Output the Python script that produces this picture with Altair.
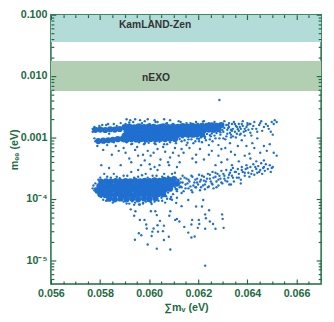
import altair as alt
import pandas as pd

# ---------------- data ----------------
# sum of neutrino masses (eV), effective Majorana mass m_ee (eV)
# dense core of the upper (m_ee ~ 1e-3 eV) branch
upper_core = [
    (0.05781, 1.33e-3), (0.05801, 1.34e-3), (0.05821, 1.32e-3), (0.05841, 1.36e-3), (0.05860, 1.34e-3), (0.05880, 1.37e-3),
    (0.05793, 8.70e-4), (0.05813, 8.85e-4), (0.05833, 9.00e-4), (0.05852, 9.15e-4), (0.05872, 9.35e-4), (0.05892, 9.50e-4),
    (0.05900, 1.47e-3), (0.05919, 1.50e-3), (0.05939, 1.46e-3), (0.05959, 1.51e-3), (0.05979, 1.47e-3), (0.05998, 1.50e-3),
    (0.06018, 1.49e-3), (0.06038, 1.46e-3), (0.06057, 1.51e-3), (0.06077, 1.48e-3), (0.06097, 1.52e-3), (0.06117, 1.49e-3),
    (0.06136, 1.53e-3), (0.06156, 1.50e-3), (0.06176, 1.54e-3), (0.06195, 1.51e-3), (0.06215, 1.55e-3), (0.06235, 1.54e-3),
    (0.06255, 1.57e-3), (0.06274, 1.55e-3), (0.06294, 1.59e-3),
    (0.05908, 1.25e-3), (0.05927, 1.27e-3), (0.05947, 1.24e-3), (0.05967, 1.28e-3), (0.05986, 1.25e-3), (0.06006, 1.28e-3),
    (0.06026, 1.26e-3), (0.06046, 1.29e-3), (0.06065, 1.26e-3), (0.06085, 1.29e-3), (0.06105, 1.27e-3), (0.06124, 1.30e-3),
    (0.06144, 1.28e-3), (0.06164, 1.31e-3), (0.06184, 1.29e-3), (0.06203, 1.32e-3), (0.06223, 1.31e-3), (0.06243, 1.34e-3),
    (0.06262, 1.33e-3), (0.06282, 1.36e-3),
    (0.05900, 1.06e-3), (0.05919, 1.08e-3), (0.05939, 1.06e-3), (0.05959, 1.09e-3), (0.05979, 1.06e-3), (0.05998, 1.09e-3),
    (0.06018, 1.07e-3), (0.06038, 1.10e-3), (0.06057, 1.07e-3), (0.06077, 1.10e-3), (0.06097, 1.09e-3), (0.06117, 1.11e-3),
    (0.06136, 1.10e-3), (0.06156, 1.12e-3), (0.06176, 1.11e-3), (0.06195, 1.13e-3), (0.06215, 1.12e-3),
    (0.05908, 9.20e-4), (0.05927, 9.40e-4), (0.05947, 9.25e-4), (0.05967, 9.45e-4), (0.05986, 9.25e-4), (0.06006, 9.45e-4),
    (0.06026, 9.30e-4), (0.06046, 9.50e-4), (0.06065, 9.40e-4), (0.06085, 9.60e-4), (0.06105, 9.45e-4),
]

# dense core of the lower (m_ee ~ 1.5e-4 eV) branch
lower_core = [
    (0.05805, 1.89e-4), (0.05825, 1.93e-4), (0.05844, 1.90e-4), (0.05864, 1.94e-4), (0.05884, 1.91e-4), (0.05904, 1.95e-4),
    (0.05923, 1.92e-4), (0.05943, 1.96e-4), (0.05963, 1.93e-4), (0.05982, 1.97e-4), (0.06002, 1.94e-4), (0.06022, 1.99e-4),
    (0.06042, 1.96e-4), (0.06061, 2.03e-4), (0.06081, 2.04e-4), (0.06101, 2.10e-4),
    (0.05797, 1.61e-4), (0.05817, 1.59e-4), (0.05837, 1.63e-4), (0.05856, 1.60e-4), (0.05876, 1.64e-4), (0.05896, 1.61e-4),
    (0.05915, 1.65e-4), (0.05935, 1.61e-4), (0.05955, 1.65e-4), (0.05975, 1.62e-4), (0.05994, 1.66e-4), (0.06014, 1.63e-4),
    (0.06034, 1.68e-4), (0.06053, 1.66e-4), (0.06073, 1.71e-4), (0.06093, 1.72e-4), (0.06113, 1.77e-4),
    (0.05789, 1.37e-4), (0.05809, 1.39e-4), (0.05829, 1.36e-4), (0.05848, 1.40e-4), (0.05868, 1.36e-4), (0.05888, 1.39e-4),
    (0.05908, 1.36e-4), (0.05927, 1.40e-4), (0.05947, 1.37e-4), (0.05967, 1.40e-4), (0.05986, 1.38e-4), (0.06006, 1.41e-4),
    (0.06026, 1.39e-4), (0.06046, 1.42e-4), (0.06065, 1.42e-4), (0.06085, 1.46e-4),
    (0.05801, 1.18e-4), (0.05821, 1.15e-4), (0.05841, 1.18e-4), (0.05860, 1.15e-4), (0.05880, 1.18e-4), (0.05900, 1.15e-4),
    (0.05919, 1.18e-4), (0.05939, 1.15e-4), (0.05959, 1.18e-4), (0.05979, 1.16e-4), (0.05998, 1.19e-4), (0.06018, 1.17e-4),
    (0.06038, 1.20e-4), (0.06057, 1.19e-4),
    (0.05837, 1.00e-4), (0.05860, 9.8e-5), (0.05884, 1.01e-4), (0.05908, 9.8e-5), (0.05931, 1.01e-4), (0.05955, 9.8e-5),
    (0.05979, 1.01e-4), (0.06002, 9.9e-5), (0.06026, 1.02e-4),
]

# individual points around the upper branch
upper_scatter = [
    (0.05908, 1.98e-3), (0.05923, 1.91e-3), (0.05943, 1.98e-3), (0.05963, 1.91e-3), (0.05994, 1.98e-3), (0.06022, 1.91e-3),
    (0.06061, 1.98e-3), (0.06085, 1.91e-3), (0.05935, 1.78e-3), (0.05982, 1.84e-3), (0.06034, 1.78e-3), (0.06073, 1.71e-3),
    (0.06120, 1.84e-3), (0.06152, 1.71e-3), (0.06191, 1.78e-3), (0.06223, 1.84e-3), (0.05884, 1.71e-3), (0.05856, 1.65e-3),
    (0.05825, 1.59e-3), (0.05797, 1.54e-3), (0.05770, 1.38e-3), (0.05770, 1.24e-3), (0.05777, 1.48e-3), (0.05777, 9.65e-4),
    (0.05781, 8.66e-4), (0.05817, 8.35e-4), (0.05856, 8.35e-4), (0.05896, 8.66e-4), (0.05837, 1.15e-3),
    (0.05789, 7.23e-4), (0.05829, 7.50e-4), (0.05864, 7.23e-4), (0.05896, 6.73e-4), (0.05876, 6.04e-4), (0.05943, 6.26e-4),
    (0.05955, 5.04e-4), (0.05975, 5.23e-4), (0.05994, 6.04e-4), (0.06006, 5.04e-4), (0.06034, 6.49e-4), (0.06046, 4.37e-4),
    (0.06065, 5.83e-4), (0.06085, 4.70e-4), (0.06105, 6.73e-4), (0.06120, 5.04e-4), (0.05927, 7.77e-4), (0.05982, 8.06e-4),
    (0.06026, 7.77e-4), (0.06073, 7.77e-4), (0.05805, 3.53e-4), (0.05837, 3.17e-4), (0.05884, 3.53e-4), (0.05927, 3.93e-4),
    (0.05967, 3.53e-4), (0.06002, 3.66e-4), (0.06022, 3.29e-4), (0.06081, 3.53e-4), (0.06113, 3.29e-4), (0.05955, 2.95e-4),
    (0.06006, 3.06e-4), (0.06042, 3.53e-4),
    (0.06381, 1.84e-3), (0.06408, 1.65e-3), (0.06428, 1.78e-3), (0.06456, 1.84e-3), (0.06475, 1.65e-3), (0.06499, 1.78e-3),
    (0.06507, 1.65e-3), (0.06519, 1.78e-3), (0.06389, 1.38e-3), (0.06420, 1.38e-3), (0.06440, 1.24e-3), (0.06467, 1.48e-3),
    (0.06416, 1.07e-3), (0.06440, 9.65e-4), (0.06377, 8.98e-4), (0.06361, 7.23e-4), (0.06396, 7.23e-4), (0.06428, 6.73e-4),
    (0.06467, 7.23e-4), (0.06507, 5.62e-4), (0.06479, 6.04e-4), (0.06519, 5.04e-4), (0.06329, 8.06e-4), (0.06310, 6.73e-4),
    (0.06282, 7.50e-4), (0.06258, 8.66e-4), (0.06231, 8.98e-4), (0.06243, 7.50e-4), (0.06203, 8.66e-4), (0.06180, 8.06e-4),
    (0.06152, 7.50e-4), (0.06164, 6.73e-4), (0.06140, 5.62e-4), (0.06191, 5.23e-4), (0.06243, 5.23e-4), (0.06282, 5.04e-4),
    (0.06349, 5.23e-4), (0.06389, 5.04e-4), (0.06124, 3.93e-4), (0.06191, 3.93e-4), (0.06270, 3.53e-4), (0.06337, 3.53e-4),
    (0.06322, 1.59e-3), (0.06333, 1.33e-3), (0.06349, 1.65e-3), (0.06357, 1.15e-3), (0.06341, 1.04e-3), (0.06369, 1.48e-3),
    (0.06302, 9.65e-4), (0.06318, 1.15e-3), (0.06365, 1.28e-3), (0.06270, 9.65e-4), (0.06251, 1.04e-3), (0.06290, 1.11e-3),
    (0.06211, 1.00e-3), (0.06172, 9.30e-4), (0.06144, 8.98e-4), (0.06400, 1.59e-3), (0.06448, 1.59e-3), (0.06487, 1.38e-3),
    (0.06412, 1.19e-3),
    # fuzzy upper edge
    (0.05809, 1.59e-3), (0.05833, 1.65e-3), (0.05868, 1.54e-3), (0.05904, 1.65e-3), (0.05919, 1.75e-3), (0.05951, 1.59e-3),
    (0.05971, 1.71e-3), (0.06002, 1.65e-3), (0.06026, 1.78e-3), (0.06046, 1.59e-3), (0.06069, 1.68e-3), (0.06097, 1.65e-3),
    (0.06128, 1.78e-3), (0.06144, 1.59e-3), (0.06168, 1.71e-3), (0.06199, 1.65e-3), (0.06219, 1.81e-3), (0.06243, 1.71e-3),
    (0.06266, 1.78e-3), (0.06286, 1.65e-3), (0.06306, 1.84e-3), (0.06325, 1.71e-3), (0.06345, 1.78e-3),
    # fuzzy lower edge
    (0.05908, 8.35e-4), (0.05931, 7.90e-4), (0.05959, 8.35e-4), (0.05979, 7.77e-4), (0.05998, 8.20e-4), (0.06022, 8.06e-4),
    (0.06042, 8.50e-4), (0.06061, 7.77e-4), (0.06085, 8.35e-4), (0.06109, 8.06e-4), (0.06132, 8.66e-4), (0.06156, 8.20e-4),
    (0.06188, 8.66e-4), (0.06215, 8.35e-4), (0.06124, 9.40e-4), (0.06117, 1.02e-3),
    # thinning right part of the branch
    (0.06136, 1.00e-3), (0.06160, 9.30e-4), (0.06184, 1.04e-3), (0.06203, 9.50e-4), (0.06227, 1.04e-3), (0.06247, 9.30e-4),
    (0.06266, 1.07e-3), (0.06286, 9.65e-4), (0.06314, 1.04e-3), (0.06333, 1.11e-3), (0.06353, 1.00e-3), (0.06373, 1.15e-3),
    (0.06389, 1.07e-3), (0.06404, 1.33e-3), (0.06424, 1.54e-3), (0.06436, 1.38e-3), (0.06452, 1.71e-3), (0.06460, 1.28e-3),
    (0.06483, 1.54e-3), (0.06495, 1.24e-3), (0.06511, 1.91e-3), (0.06322, 1.43e-3), (0.06337, 1.28e-3), (0.06353, 1.54e-3),
    (0.06361, 1.36e-3), (0.06377, 1.65e-3), (0.06385, 1.24e-3), (0.06396, 1.48e-3), (0.06412, 1.65e-3),
    (0.06314, 1.59e-3), (0.06318, 1.33e-3), (0.06325, 1.48e-3), (0.06329, 1.19e-3), (0.06337, 1.65e-3), (0.06341, 1.38e-3),
    (0.06349, 1.24e-3), (0.06357, 1.48e-3), (0.06365, 1.65e-3), (0.06373, 1.38e-3), (0.06381, 1.54e-3), (0.06393, 1.28e-3),
    (0.06400, 1.71e-3), (0.06369, 1.11e-3), (0.06333, 1.00e-3), (0.06310, 9.30e-4), (0.06302, 1.24e-3), (0.06306, 1.43e-3),
    (0.06235, 1.14e-3), (0.06255, 1.16e-3), (0.06247, 1.09e-3), (0.06274, 1.18e-3), (0.06290, 1.21e-3), (0.06298, 1.32e-3),
    (0.06227, 9.80e-4), (0.06195, 9.60e-4), (0.06160, 1.02e-3),
    # between the two branches
    (0.05813, 6.26e-4), (0.05848, 5.23e-4), (0.05904, 5.62e-4), (0.05919, 4.53e-4), (0.05951, 6.98e-4), (0.05982, 4.22e-4),
    (0.06018, 5.62e-4), (0.06057, 6.98e-4), (0.06077, 3.93e-4), (0.06097, 5.62e-4), (0.06132, 6.49e-4), (0.06176, 4.53e-4),
    (0.06207, 6.49e-4), (0.06223, 4.37e-4), (0.06255, 6.04e-4), (0.06294, 6.49e-4), (0.06318, 4.37e-4), (0.06333, 5.83e-4),
    (0.06365, 4.07e-4), (0.06408, 5.42e-4), (0.06420, 8.06e-4), (0.06452, 5.62e-4), (0.06491, 7.77e-4), (0.06503, 1.11e-3),
    (0.06412, 4.53e-4), (0.06294, 3.93e-4),
]

# individual points around the lower branch
lower_scatter = [
    (0.05781, 1.78e-4), (0.05781, 1.48e-4), (0.05785, 1.28e-4), (0.05793, 2.05e-4), (0.05805, 1.07e-4), (0.05813, 9.65e-5),
    (0.05844, 2.21e-4), (0.05868, 2.29e-4), (0.05896, 8.98e-5), (0.05919, 8.35e-5), (0.05943, 8.66e-5), (0.05975, 8.35e-5),
    (0.05994, 9.30e-5), (0.06022, 8.98e-5), (0.06053, 9.30e-5), (0.06073, 1.00e-4), (0.05896, 2.37e-4), (0.05955, 2.29e-4),
    (0.06014, 2.37e-4), (0.06053, 2.29e-4), (0.05986, 2.55e-4), (0.05927, 2.74e-4), (0.06034, 2.95e-4), (0.05856, 2.55e-4),
    (0.05817, 2.55e-4), (0.06093, 2.55e-4),
    (0.05801, 2.21e-4), (0.05829, 2.29e-4), (0.05880, 2.17e-4), (0.05911, 2.37e-4), (0.05939, 2.21e-4), (0.05971, 2.42e-4),
    (0.05994, 2.21e-4), (0.06030, 2.37e-4), (0.06061, 2.55e-4), (0.06077, 2.29e-4), (0.06105, 2.65e-4),
    (0.05825, 9.30e-5), (0.05852, 8.66e-5), (0.05876, 9.50e-5), (0.05908, 8.35e-5), (0.05931, 9.10e-5), (0.05959, 8.06e-5),
    (0.05986, 8.98e-5), (0.06010, 8.20e-5), (0.06038, 9.30e-5), (0.06065, 8.66e-5), (0.06093, 9.65e-5), (0.06113, 1.04e-4),
    (0.05773, 1.65e-4), (0.05777, 1.38e-4), (0.05770, 1.48e-4),
    (0.06097, 1.84e-4), (0.06105, 1.54e-4), (0.06113, 1.33e-4), (0.06097, 1.19e-4), (0.06089, 1.07e-4), (0.06120, 1.71e-4),
    (0.06128, 2.13e-4), (0.06132, 1.54e-4), (0.06077, 1.26e-4), (0.06050, 1.04e-4), (0.06069, 1.10e-4), (0.06109, 1.43e-4),
    # rising right part of the branch
    (0.06117, 2.05e-4), (0.06124, 1.54e-4), (0.06128, 1.84e-4), (0.06136, 2.37e-4), (0.06140, 1.33e-4), (0.06148, 1.71e-4),
    (0.06152, 2.13e-4), (0.06160, 1.48e-4), (0.06164, 1.91e-4), (0.06172, 2.37e-4), (0.06176, 1.28e-4), (0.06180, 1.65e-4),
    (0.06188, 2.05e-4), (0.06191, 1.54e-4), (0.06195, 1.84e-4), (0.06203, 2.46e-4), (0.06207, 1.38e-4), (0.06211, 2.05e-4),
    (0.06219, 1.65e-4), (0.06223, 2.29e-4), (0.06227, 1.43e-4), (0.06231, 1.91e-4), (0.06239, 2.55e-4), (0.06243, 1.59e-4),
    (0.06247, 2.13e-4), (0.06255, 1.78e-4), (0.06258, 2.74e-4), (0.06262, 1.48e-4), (0.06270, 2.29e-4), (0.06274, 1.91e-4),
    (0.06278, 2.55e-4), (0.06282, 1.65e-4), (0.06290, 2.13e-4), (0.06294, 2.85e-4), (0.06298, 1.78e-4), (0.06306, 2.37e-4),
    (0.06310, 1.98e-4), (0.06314, 2.95e-4), (0.06322, 2.21e-4), (0.06326, 1.71e-4), (0.06329, 2.65e-4), (0.06337, 2.37e-4),
    (0.06341, 3.17e-4), (0.06345, 1.91e-4), (0.06349, 2.74e-4), (0.06357, 2.21e-4), (0.06361, 3.06e-4), (0.06365, 2.55e-4),
    (0.06373, 2.05e-4), (0.06377, 3.29e-4), (0.06381, 2.74e-4), (0.06389, 2.37e-4), (0.06393, 3.06e-4), (0.06396, 3.53e-4),
    (0.06404, 2.65e-4), (0.06408, 2.29e-4), (0.06412, 3.29e-4), (0.06420, 2.85e-4), (0.06424, 3.66e-4), (0.06428, 2.46e-4),
    (0.06436, 3.06e-4), (0.06440, 2.65e-4), (0.06444, 3.41e-4), (0.06452, 2.95e-4), (0.06456, 3.79e-4), (0.06460, 2.55e-4),
    (0.06467, 3.29e-4), (0.06471, 2.85e-4), (0.06475, 3.66e-4), (0.06483, 3.06e-4), (0.06491, 3.53e-4), (0.06495, 2.74e-4),
    (0.06503, 3.29e-4), (0.06499, 3.17e-4), (0.06436, 4.07e-4), (0.06467, 4.22e-4), (0.06333, 1.71e-4), (0.06373, 1.78e-4),
    (0.06109, 1.71e-4), (0.06113, 1.43e-4), (0.06120, 1.98e-4), (0.06128, 1.59e-4), (0.06132, 1.24e-4), (0.06136, 1.84e-4),
    (0.06144, 2.21e-4), (0.06148, 1.48e-4), (0.06156, 1.78e-4), (0.06160, 2.05e-4), (0.06168, 1.59e-4), (0.06172, 1.38e-4),
    (0.06176, 2.29e-4), (0.06184, 1.84e-4), (0.06188, 1.54e-4), (0.06195, 2.13e-4), (0.06199, 1.71e-4), (0.06207, 1.91e-4),
    (0.06211, 1.54e-4), (0.06215, 2.37e-4), (0.06223, 1.98e-4), (0.06227, 1.71e-4), (0.06235, 2.13e-4), (0.06239, 1.54e-4),
    (0.06247, 2.46e-4), (0.06251, 1.91e-4), (0.06258, 1.71e-4), (0.06262, 2.21e-4), (0.06270, 2.65e-4), (0.06274, 1.54e-4),
    (0.06282, 2.05e-4), (0.06286, 2.37e-4), (0.06294, 1.84e-4), (0.06302, 2.55e-4), (0.06306, 2.13e-4), (0.06318, 1.91e-4),
    (0.06325, 2.46e-4), (0.06333, 2.95e-4), (0.06341, 2.21e-4), (0.06353, 2.74e-4), (0.06365, 2.21e-4), (0.06377, 2.95e-4),
    (0.06389, 2.65e-4), (0.06400, 3.17e-4), (0.06416, 2.55e-4), (0.06432, 3.29e-4), (0.06448, 2.74e-4), (0.06464, 3.17e-4),
]

# sparse points below the lower branch, plus two isolated points
sparse_points = [
    (0.05925, 6.73e-5), (0.05939, 5.28e-5), (0.05944, 6.26e-5), (0.05962, 4.53e-5), (0.05981, 4.53e-5), (0.05988, 3.80e-5),
    (0.05990, 3.28e-5), (0.05958, 2.74e-5), (0.05968, 2.55e-5), (0.05942, 2.15e-5), (0.05994, 1.80e-5), (0.06007, 6.26e-5),
    (0.06025, 6.26e-5), (0.06031, 5.42e-5), (0.06044, 4.37e-5), (0.06034, 3.71e-5), (0.06018, 3.28e-5), (0.06013, 2.91e-5),
    (0.06010, 2.48e-5), (0.06036, 2.91e-5), (0.06056, 2.97e-5), (0.06060, 3.65e-5), (0.06080, 2.40e-5), (0.06060, 2.13e-5),
    (0.06031, 1.54e-5), (0.06086, 1.49e-5), (0.06086, 6.26e-5), (0.06082, 5.28e-5), (0.06106, 4.53e-5), (0.06113, 4.70e-5),
    (0.06123, 4.26e-5), (0.06143, 3.48e-5), (0.06159, 2.81e-5), (0.06175, 4.53e-5), (0.06172, 3.80e-5), (0.06185, 2.43e-5),
    (0.06172, 2.34e-5), (0.06202, 4.53e-5), (0.06204, 3.89e-5), (0.06198, 3.36e-5), (0.06228, 5.56e-5), (0.06231, 4.82e-5),
    (0.06228, 3.25e-5), (0.06244, 6.50e-5), (0.06247, 4.26e-5), (0.06260, 3.89e-5), (0.06270, 3.25e-5), (0.06297, 5.56e-5),
    (0.06299, 4.70e-5), (0.06303, 3.36e-5), (0.06191, 7.50e-5), (0.06215, 7.50e-5), (0.06132, 7.58e-5), (0.06159, 9.55e-5),
    (0.06220, 9.55e-5), (0.06086, 9.90e-5), (0.06110, 8.57e-5), (0.06007, 8.75e-5), (0.05975, 8.57e-5), (0.05962, 8.06e-5),
    (0.05939, 7.98e-5), (0.06228, 8.14e-6), (0.06286, 4.07e-3),
]

# experimental sensitivity bands
band_names = ["KamLAND-Zen", "nEXO"]
band_low = [0.036, 0.0057]
band_high = [0.1, 0.0176]
band_x_from = [0.056, 0.056]
band_x_to = [0.067, 0.067]
label_x = [0.06024, 0.06028]
label_y = [0.0673, 0.0093]

# axes
x_domain = [0.056, 0.067]
y_domain = [4.1e-6, 0.1]
x_major = [0.056, 0.058, 0.060, 0.062, 0.064, 0.066]
x_minor = [0.0565, 0.057, 0.0575, 0.0585, 0.059, 0.0595, 0.0605, 0.061, 0.0615,
           0.0625, 0.063, 0.0635, 0.0645, 0.065, 0.0655, 0.0665]
y_major = [1e-5, 1e-4, 1e-3, 1e-2, 1e-1]
y_minor = [m * 10.0 ** e for e in range(-6, -1) for m in range(2, 10) if 4.1e-6 < m * 10.0 ** e < 0.1]
y_labels_expr = ("datum.value >= 0.0009 ? format(datum.value, '.3f') : "
                 "(datum.value >= 0.00009 ? '10\u207b\u2074' : '10\u207b\u2075')")

# ---------------- styling ----------------
GREEN = "#1d6b3f"
BLUE = "#1f6fd0"
FONT = "Liberation Sans"


def frame(pairs):
    return pd.DataFrame(pairs, columns=["sum_mnu", "mee"])


bands_df = pd.DataFrame({"name": band_names, "lo": band_low, "hi": band_high,
                         "x0": band_x_from, "x1": band_x_to, "lx": label_x, "ly": label_y})

xscale = alt.Scale(domain=x_domain, nice=False, zero=False)
yscale = alt.Scale(type="log", domain=y_domain, nice=False)


def make_axis(orient, values, size, labels=False, title=None, fmt=None, expr=None,
              label_pad=4, title_pad=3):
    kw = dict(orient=orient, values=values, tickSize=size, offset=-size, domain=False,
              grid=False, labels=labels, ticks=True, tickColor=GREEN, tickWidth=1.2, zindex=1)
    if labels:
        kw.update(labelColor=GREEN, labelFont=FONT, labelFontSize=11, labelFontWeight="bold",
                  labelPadding=label_pad, labelFlush=False, labelOverlap=False)
    if fmt:
        kw["format"] = fmt
    if expr:
        kw["labelExpr"] = expr
    if title:
        kw.update(title=title, titleColor=GREEN, titleFont=FONT, titleFontSize=11,
                  titleFontWeight="bold", titlePadding=title_pad)
    else:
        kw["title"] = None
    return alt.Axis(**kw)


bands = alt.Chart(bands_df).mark_rect().encode(
    x=alt.X("x0:Q", scale=xscale, axis=None),
    x2="x1:Q",
    y=alt.Y("lo:Q", scale=yscale, axis=None),
    y2="hi:Q",
    color=alt.Color("name:N", scale=alt.Scale(domain=band_names, range=["#b3dcd9", "#b2cfb4"]), legend=None),
)

band_text = alt.Chart(bands_df).mark_text(font=FONT, fontSize=10.5, fontWeight="bold", color="#333333").encode(
    x=alt.X("lx:Q", scale=xscale, axis=None),
    y=alt.Y("ly:Q", scale=yscale, axis=None),
    text="name:N",
)

fringe = alt.Chart(frame(upper_scatter + lower_scatter)).mark_circle(size=6, color=BLUE, opacity=1).encode(
    x=alt.X("sum_mnu:Q", scale=xscale,
            axis=make_axis("bottom", x_major, 5, labels=True, title="\u2211m\u1d65 (eV)", fmt=".3f", label_pad=4, title_pad=3)),
    y=alt.Y("mee:Q", scale=yscale,
            axis=make_axis("left", y_major, 5, labels=True, title="m\u2091\u2091 (eV)", expr=y_labels_expr, label_pad=4, title_pad=1)),
)

core = alt.Chart(frame(upper_core + lower_core)).mark_circle(size=40, color=BLUE, opacity=1).encode(
    x=alt.X("sum_mnu:Q", scale=xscale, axis=make_axis("bottom", x_minor, 3)),
    y=alt.Y("mee:Q", scale=yscale, axis=make_axis("left", y_minor, 3)),
)

sparse = alt.Chart(frame(sparse_points)).mark_circle(size=6, color=BLUE, opacity=1).encode(
    x=alt.X("sum_mnu:Q", scale=xscale, axis=make_axis("top", x_major, 5)),
    y=alt.Y("mee:Q", scale=yscale, axis=make_axis("right", y_major, 5)),
)

ghost = alt.Chart(frame(sparse_points)).mark_circle(size=6, color=BLUE, opacity=0).encode(
    x=alt.X("sum_mnu:Q", scale=xscale, axis=make_axis("top", x_minor, 3)),
    y=alt.Y("mee:Q", scale=yscale, axis=make_axis("right", y_minor, 3)),
)

chart = alt.layer(bands, band_text, core, fringe, sparse, ghost).resolve_axis(
    x="independent", y="independent"
).properties(
    width=277,
    height=276,
    padding={"left": 44, "top": 3, "right": 5, "bottom": 27},
    autosize=alt.AutoSizeParams(type="none"),
    background="white",
).configure_view(stroke=GREEN, strokeWidth=1.5)

chart.save("out.html", embed_options={"renderer": "svg", "actions": False})
